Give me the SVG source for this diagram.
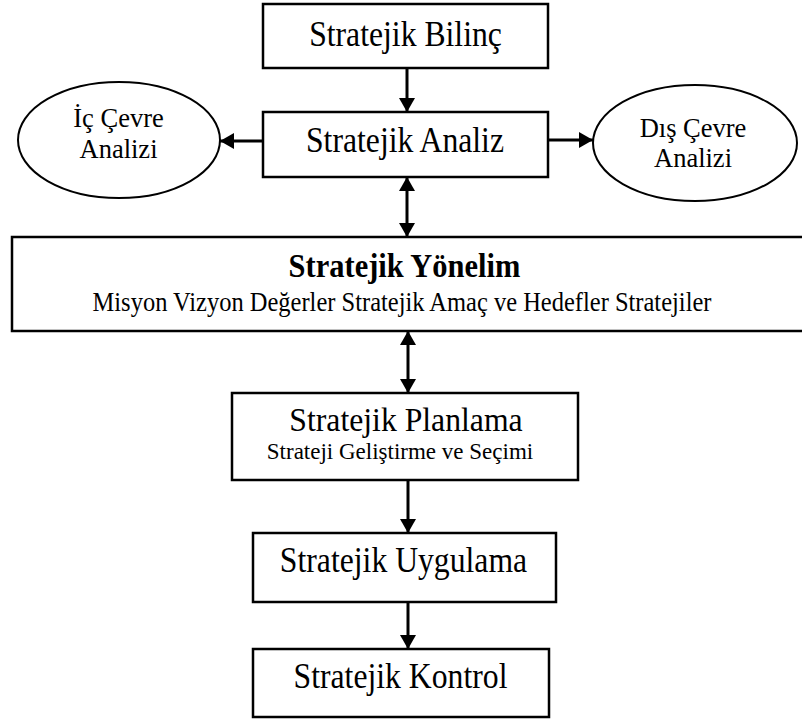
<svg xmlns="http://www.w3.org/2000/svg" width="802" height="722" viewBox="0 0 802 722">
  <style>
    .box { fill: #ffffff; stroke: #000000; stroke-width: 2.5; }
    .oval { fill: #ffffff; stroke: #000000; stroke-width: 2; }
    .lbl { font-family: "Liberation Serif", "Times New Roman", serif; fill: #000000; text-anchor: middle; }
    .big { font-size: 31.7px; }
    .mid { font-size: 26.5px; }
    .bold { font-weight: bold; }
    .link { stroke: #000000; stroke-width: 3; fill: none; }
  </style>
  <defs>
    <marker id="head" viewBox="0 0 14 16" refX="14" refY="8" markerWidth="14" markerHeight="16" markerUnits="userSpaceOnUse" orient="auto-start-reverse">
      <path d="M0,0 L14,8 L0,16 Z" fill="#000000"/>
    </marker>
  </defs>

  <g id="connectors">
    <line class="link" x1="407" y1="68" x2="407" y2="112" marker-end="url(#head)"/>
    <line class="link" x1="263" y1="141" x2="220" y2="141" marker-end="url(#head)"/>
    <line class="link" x1="548" y1="140" x2="593" y2="140" marker-end="url(#head)"/>
    <line class="link" x1="407" y1="177" x2="407" y2="237" marker-start="url(#head)" marker-end="url(#head)"/>
    <line class="link" x1="408" y1="331" x2="408" y2="393" marker-start="url(#head)" marker-end="url(#head)"/>
    <line class="link" x1="408" y1="480" x2="408" y2="533" marker-end="url(#head)"/>
    <line class="link" x1="408" y1="602" x2="408" y2="649" marker-end="url(#head)"/>
  </g>

  <g id="bilinc">
    <rect class="box" x="263" y="4" width="285" height="64"/>
    <text class="lbl big" transform="translate(405.5,46) scale(1,1.12)">Stratejik Bilinç</text>
  </g>

  <g id="analiz">
    <rect class="box" x="263" y="112" width="285" height="65"/>
    <text class="lbl big" transform="translate(405,152) scale(1,1.12)">Stratejik Analiz</text>
  </g>

  <g id="ic-cevre">
    <ellipse class="oval" cx="119" cy="140" rx="101" ry="58"/>
    <text class="lbl mid" x="118.5" y="127">İç Çevre</text>
    <text class="lbl mid" x="118.5" y="158">Analizi</text>
  </g>

  <g id="dis-cevre">
    <ellipse class="oval" cx="695" cy="143" rx="102" ry="58"/>
    <text class="lbl mid" x="693" y="137">Dış Çevre</text>
    <text class="lbl mid" x="693" y="167">Analizi</text>
  </g>

  <g id="yonelim">
    <rect class="box" x="12" y="237" width="800" height="94"/>
    <text class="lbl bold" style="font-size:30.5px" transform="translate(404.5,277) scale(1,1.12)">Stratejik Yönelim</text>
    <text class="lbl" style="font-size:24.5px" transform="translate(402,311) scale(1,1.12)">Misyon Vizyon Değerler Stratejik Amaç ve Hedefler Stratejiler</text>
  </g>

  <g id="planlama">
    <rect class="box" x="232" y="393" width="346" height="87"/>
    <text class="lbl big" transform="translate(406,431) scale(1,1.05)">Stratejik Planlama</text>
    <text class="lbl" style="font-size:23px" x="400" y="459">Strateji Geliştirme ve Seçimi</text>
  </g>

  <g id="uygulama">
    <rect class="box" x="253" y="533" width="303" height="69"/>
    <text class="lbl big" transform="translate(403.5,572) scale(1,1.12)">Stratejik Uygulama</text>
  </g>

  <g id="kontrol">
    <rect class="box" x="253" y="649" width="296" height="68"/>
    <text class="lbl big" transform="translate(400.5,688) scale(1,1.12)">Stratejik Kontrol</text>
  </g>
</svg>
